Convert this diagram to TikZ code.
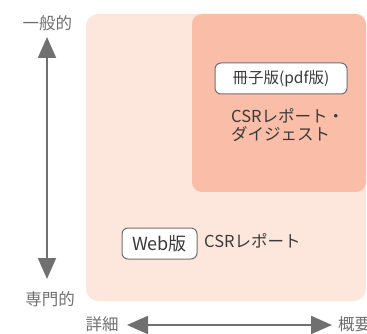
\documentclass[tikz,border=0pt]{standalone}
\usepackage{fontspec}
\setmainfont{Noto Sans CJK JP}
\usetikzlibrary{arrows.meta}
\definecolor{lightbg}{RGB}{253,230,220}
\definecolor{darkbg}{RGB}{250,190,168}
\definecolor{axisgray}{RGB}{112,112,112}
\definecolor{textdark}{RGB}{58,58,58}
\tikzset{
  axis/.style={draw=axisgray, line width=2pt, {Triangle[length=21pt,width=18pt]}-{Triangle[length=21pt,width=18pt]}},
  axislabel/.style={text=axisgray, font=\fontsize{16.5}{18}\selectfont, inner sep=0pt},
  label/.style={text=textdark, font=\fontsize{16.5}{18}\selectfont, inner sep=0pt},
  tag/.style={draw=axisgray, fill=white, line width=1pt, rounded corners=6pt, text=textdark, inner sep=0pt}
}
\begin{document}
\begin{tikzpicture}[x=1pt,y=-1pt]
\useasboundingbox (0,0) rectangle (367,334);
\fill[lightbg, rounded corners=12pt] (86,14) rectangle (366,301);
\fill[darkbg, rounded corners=10pt] (192,14) rectangle (366,192);
\node[axislabel] (top) at (47.5,23.5) {一般的};
\node[axislabel] (bottom) at (50,299.5) {専門的};
\node[axislabel] (left) at (102,324) {詳細};
\node[axislabel, anchor=west] (right) at (338,324) {概要};
\coordinate (vt) at (47,37);
\coordinate (vb) at (47,279);
\coordinate (hl) at (127,325);
\coordinate (hr) at (332,325);
\draw[axis] (vt) -- (vb);
\draw[axis] (hl) -- (hr);
\node[tag, font=\fontsize{18}{20}\selectfont, minimum width=75pt, minimum height=31pt] (web) at (159.5,243.5) {Web版};
\node[label, anchor=base west] (csr) at (204,247) {CSRレポート};
\node[tag, font=\fontsize{15.5}{18}\selectfont, minimum width=132pt, minimum height=31pt] (pdf) at (281,78.5) {冊子版(pdf版)};
\node[label, anchor=base west] (dig1) at (231,123) {CSRレポート・};
\node[label, anchor=base west] (dig2) at (231,140.5) {ダイジェスト};
\end{tikzpicture}
\end{document}
